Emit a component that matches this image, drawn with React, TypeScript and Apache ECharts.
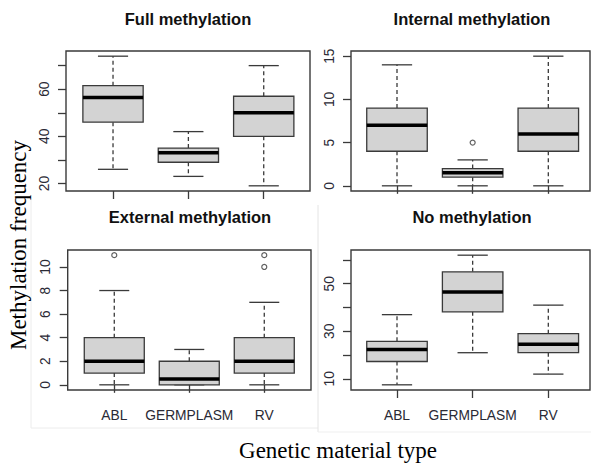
import React, { useEffect, useRef } from "react";
import * as echarts from "echarts";

// ---------- data ----------
const categories = ["ABL", "GERMPLASM", "RV"];
const panelTitles = ["Full methylation", "Internal methylation", "External methylation", "No methylation"];

// [min whisker, Q1, median, Q3, max whisker] per category
const fullStats = [
  [26, 46, 56.5, 61.5, 74],
  [23, 29, 33, 35, 42],
  [19, 40, 50, 57, 70],
];
const internalStats = [
  [0, 4, 7, 9, 14],
  [0, 1, 1.5, 2, 3],
  [0, 4, 6, 9, 15],
];
const externalStats = [
  [0, 1, 2, 4, 8],
  [0, 0, 0.5, 2, 3],
  [0, 1, 2, 4, 7],
];
const noStats = [
  [7.5, 17.3, 22.3, 25.8, 37],
  [21, 38.2, 46.5, 55, 62],
  [12, 21, 24.6, 29, 41],
];

// outliers: [category index, value]
const fullOutliers: number[][] = [];
const internalOutliers = [[1, 5]];
const externalOutliers = [[0, 11], [2, 10], [2, 11]];
const noOutliers: number[][] = [];

// axis ticks and labels
const fullTicks = [20, 30, 40, 50, 60, 70];
const fullLabels = [20, 40, 60];
const internalTicks = [0, 5, 10, 15];
const internalLabels = [0, 5, 10, 15];
const externalTicks = [0, 2, 4, 6, 8, 10];
const externalLabels = [0, 2, 4, 6, 8, 10];
const noTicks = [10, 20, 30, 40, 50, 60];
const noLabels = [10, 30, 50];

const statsList = [fullStats, internalStats, externalStats, noStats];
const outlierList = [fullOutliers, internalOutliers, externalOutliers, noOutliers];
const tickList = [fullTicks, internalTicks, externalTicks, noTicks];
const labelList = [fullLabels, internalLabels, externalLabels, noLabels];

// ---------- layout ----------
const frames = [
  { left: 66, top: 51, width: 244, height: 140, xMin: 0.376, xMax: 3.614 },
  { left: 351, top: 51, width: 239, height: 140, xMin: 0.392, xMax: 3.551 },
  { left: 67.7, top: 250, width: 243.3, height: 140, xMin: 0.379, xMax: 3.623 },
  { left: 351, top: 250, width: 239, height: 140, xMin: 0.392, xMax: 3.551 },
];
const titlePos = [
  [188, 19],
  [472, 19],
  [190, 217],
  [472, 217],
];

const LINE = "#3a3a3a";
const SANS = "'Liberation Sans', Arial, sans-serif";
const SERIF = "'Liberation Serif', 'Times New Roman', serif";

function renderBox(params: any, api: any) {
  const x = api.value(0);
  const mn = api.value(1);
  const q1 = api.value(2);
  const md = api.value(3);
  const q3 = api.value(4);
  const mx = api.value(5);
  const boxW = api.size([0.8, 0])[0];
  const capW = boxW * 0.5;
  const pMin = api.coord([x, mn]);
  const pQ1 = api.coord([x, q1]);
  const pMd = api.coord([x, md]);
  const pQ3 = api.coord([x, q3]);
  const pMax = api.coord([x, mx]);
  const cx = pMin[0];
  const wStyle = { stroke: LINE, lineWidth: 1.3, lineDash: [4, 3] };
  const sStyle = { stroke: LINE, lineWidth: 1.3 };
  return {
    type: "group",
    children: [
      { type: "line", shape: { x1: cx, y1: pQ1[1], x2: cx, y2: pMin[1] }, style: wStyle },
      { type: "line", shape: { x1: cx, y1: pQ3[1], x2: cx, y2: pMax[1] }, style: wStyle },
      { type: "line", shape: { x1: cx - capW / 2, y1: pMin[1], x2: cx + capW / 2, y2: pMin[1] }, style: sStyle },
      { type: "line", shape: { x1: cx - capW / 2, y1: pMax[1], x2: cx + capW / 2, y2: pMax[1] }, style: sStyle },
      {
        type: "rect",
        shape: { x: cx - boxW / 2, y: pQ3[1], width: boxW, height: pQ1[1] - pQ3[1] },
        style: { fill: "#d3d3d3", stroke: LINE, lineWidth: 1.3 },
      },
      {
        type: "line",
        shape: { x1: cx - boxW / 2, y1: pMd[1], x2: cx + boxW / 2, y2: pMd[1] },
        style: { stroke: "#000", lineWidth: 3.5 },
      },
    ],
  };
}

function buildOption() {
  const grid: any[] = [];
  const xAxis: any[] = [];
  const yAxis: any[] = [];
  const series: any[] = [];
  const graphic: any[] = [];

  for (let i = 0; i < 4; i++) {
    const f = frames[i];
    const stats = statsList[i];
    const outs = outlierList[i];
    const allVals = stats.flat().concat(outs.map((o) => o[1]));
    const lo = Math.min(...allVals);
    const hi = Math.max(...allVals);
    const pad = (hi - lo) * 0.04;
    const bottomRow = i >= 2;

    grid.push({
      left: f.left,
      top: f.top,
      width: f.width,
      height: f.height,
      show: true,
      borderColor: LINE,
      borderWidth: 1.4,
      backgroundColor: "transparent",
      containLabel: false,
    });
    xAxis.push({
      gridIndex: i,
      type: "value",
      min: f.xMin,
      max: f.xMax,
      axisLine: { show: false },
      splitLine: { show: false },
      axisTick: {
        show: true,
        customValues: [1, 2, 3],
        length: 8,
        lineStyle: { color: LINE, width: 1.3 },
      },
      axisLabel: {
        show: bottomRow,
        customValues: [1, 2, 3],
        formatter: (v: number) => categories[Math.round(v) - 1],
        margin: 18,
        fontSize: 13.8,
        fontFamily: SANS,
        color: "#2a2a35",
      },
    });
    yAxis.push({
      gridIndex: i,
      type: "value",
      min: lo - pad,
      max: hi + pad,
      axisLine: { show: false },
      splitLine: { show: false },
      axisTick: {
        show: true,
        customValues: tickList[i],
        length: 8,
        lineStyle: { color: LINE, width: 1.3 },
      },
      axisLabel: {
        show: true,
        customValues: labelList[i],
        rotate: 90,
        margin: 15,
        fontSize: 13.8,
        fontFamily: SANS,
        color: "#2a2a35",
      },
    });
    series.push({
      type: "custom",
      xAxisIndex: i,
      yAxisIndex: i,
      renderItem: renderBox,
      encode: { x: 0, y: [1, 2, 3, 4, 5] },
      data: stats.map((s, k) => [k + 1, ...s]),
      z: 2,
    });
    series.push({
      type: "scatter",
      xAxisIndex: i,
      yAxisIndex: i,
      symbol: "circle",
      symbolSize: 5,
      itemStyle: { color: "#ffffff", borderColor: LINE, borderWidth: 1.2 },
      data: outs.map((o) => [o[0] + 1, o[1]]),
      z: 3,
    });
    graphic.push({
      type: "text",
      x: titlePos[i][0],
      y: titlePos[i][1],
      style: {
        text: panelTitles[i],
        fill: "#111",
        font: `bold 16.5px ${SANS}`,
        align: "center",
        verticalAlign: "middle",
        textAlign: "center",
        textVerticalAlign: "middle",
      },
    });
  }

  // faint borders of the pasted panel images
  graphic.push(
    { type: "line", shape: { x1: 31, y1: 195, x2: 31, y2: 428 }, style: { stroke: "#ececec", lineWidth: 1 } },
    { type: "line", shape: { x1: 31, y1: 428, x2: 318, y2: 428 }, style: { stroke: "#ececec", lineWidth: 1 } },
    { type: "line", shape: { x1: 318, y1: 205, x2: 318, y2: 432 }, style: { stroke: "#e4e4e4", lineWidth: 1 } },
    { type: "line", shape: { x1: 318, y1: 432, x2: 591, y2: 432 }, style: { stroke: "#efefef", lineWidth: 1 } }
  );

  // shared axis titles
  graphic.push(
    {
      type: "text",
      x: 18,
      y: 245,
      rotation: Math.PI / 2,
      style: {
        text: "Methylation frequency",
        fill: "#000",
        font: `23px ${SERIF}`,
        align: "center",
        verticalAlign: "middle",
        textAlign: "center",
        textVerticalAlign: "middle",
      },
    },
    {
      type: "text",
      x: 338,
      y: 450,
      style: {
        text: "Genetic material type",
        fill: "#000",
        font: `23px ${SERIF}`,
        align: "center",
        verticalAlign: "middle",
        textAlign: "center",
        textVerticalAlign: "middle",
      },
    }
  );

  return {
    animation: false,
    backgroundColor: "#ffffff",
    grid,
    xAxis,
    yAxis,
    series,
    graphic,
  };
}

export default function App() {
  const ref = useRef<HTMLDivElement>(null);
  useEffect(() => {
    if (!ref.current) return;
    const chart = echarts.init(ref.current, undefined, { renderer: "svg" });
    chart.setOption(buildOption() as any);
    return () => chart.dispose();
  }, []);
  return (
    <div
      ref={ref}
      style={{ position: "fixed", left: 0, top: 0, width: 591, height: 464 }}
    />
  );
}
